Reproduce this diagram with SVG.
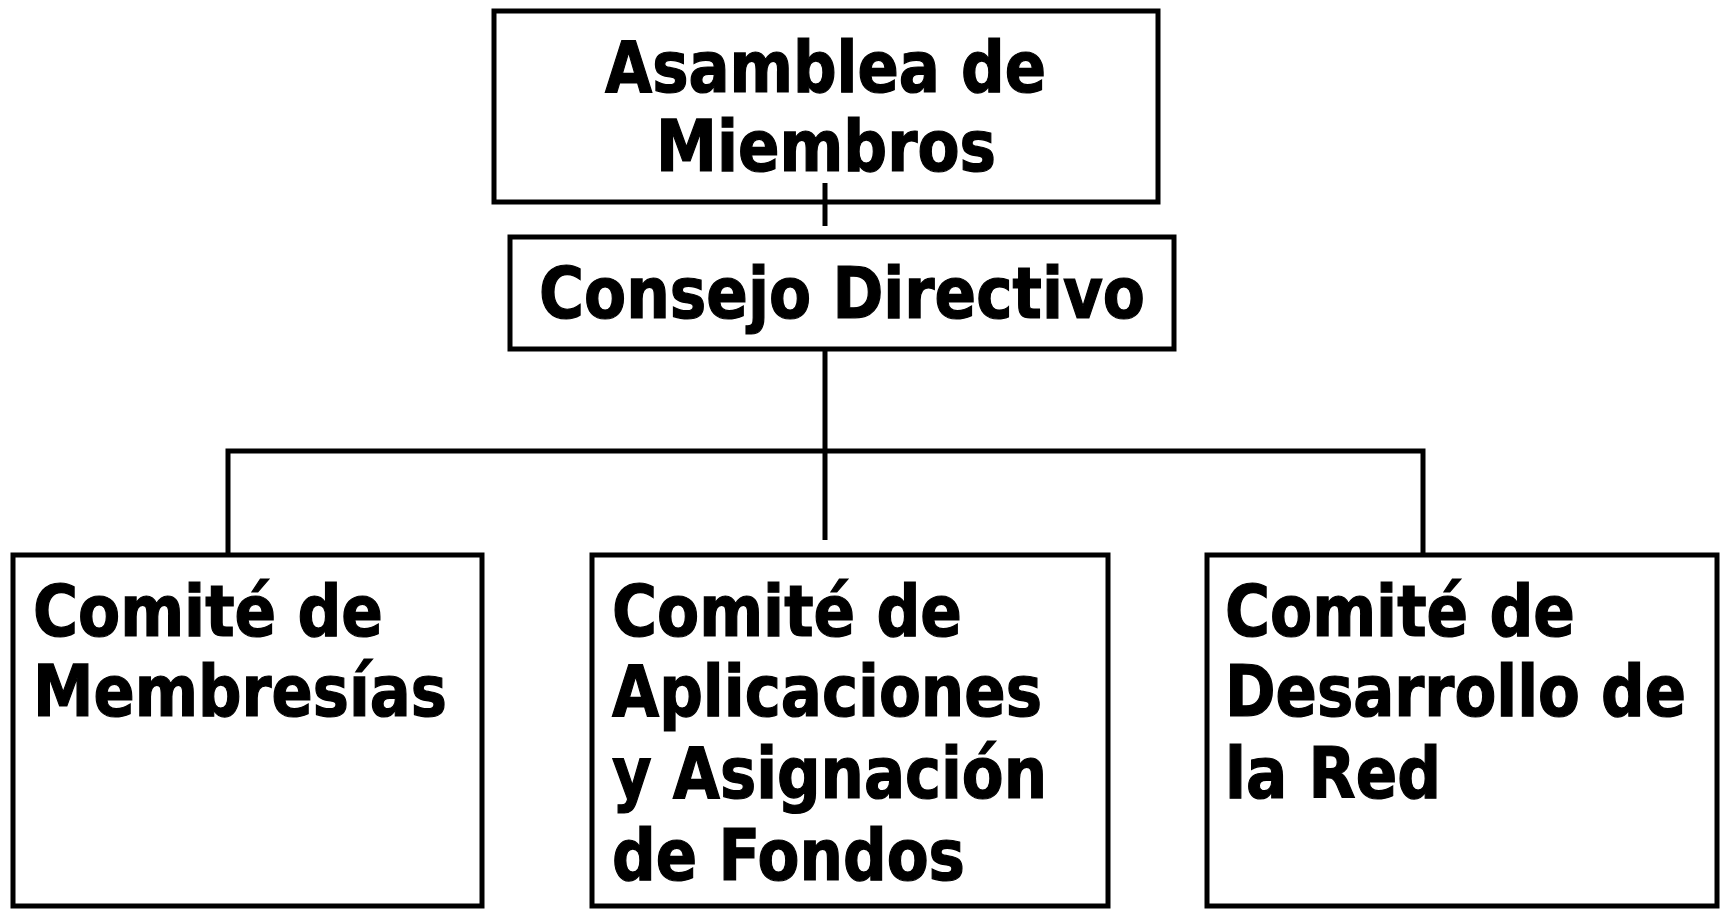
<svg xmlns="http://www.w3.org/2000/svg" width="1720" height="909" viewBox="0 0 1720 909">
<style>
.box{fill:#fff;stroke:#000;stroke-width:5}
.t{font-family:"DejaVu Sans Condensed","DejaVu Sans",sans-serif;font-weight:bold;font-size:71px;fill:#000;stroke:#000;stroke-width:1.2}
.c{stroke:#000;stroke-width:5;fill:none}
</style>
<rect width="1720" height="909" fill="#fff"/>
<g id="asamblea">
<rect class="box" x="494" y="11" width="664" height="191"/>
<text class="t" x="605" y="92" textLength="441" lengthAdjust="spacingAndGlyphs">Asamblea de</text>
<text class="t" x="656" y="171" textLength="340" lengthAdjust="spacingAndGlyphs">Miembros</text>
</g>
<g id="consejo">
<rect class="box" x="510" y="237" width="664" height="112"/>
<text class="t" x="539" y="318" textLength="606" lengthAdjust="spacingAndGlyphs">Consejo Directivo</text>
</g>
<g id="membresias">
<rect class="box" x="13" y="555" width="469" height="351"/>
<text class="t" x="33" y="636" textLength="350" lengthAdjust="spacingAndGlyphs">Comité de</text>
<text class="t" x="33" y="716" textLength="414" lengthAdjust="spacingAndGlyphs">Membresías</text>
</g>
<g id="aplicaciones">
<rect class="box" x="592" y="555" width="516" height="351"/>
<text class="t" x="612" y="636" textLength="350" lengthAdjust="spacingAndGlyphs">Comité de</text>
<text class="t" x="612" y="716" textLength="430" lengthAdjust="spacingAndGlyphs">Aplicaciones</text>
<text class="t" x="612" y="798" textLength="435" lengthAdjust="spacingAndGlyphs">y Asignación</text>
<text class="t" x="612" y="880" textLength="353" lengthAdjust="spacingAndGlyphs">de Fondos</text>
</g>
<g id="desarrollo">
<rect class="box" x="1207" y="555" width="510" height="351"/>
<text class="t" x="1225" y="636" textLength="350" lengthAdjust="spacingAndGlyphs">Comité de</text>
<text class="t" x="1225" y="716" textLength="461" lengthAdjust="spacingAndGlyphs">Desarrollo de</text>
<text class="t" x="1225" y="798" textLength="216" lengthAdjust="spacingAndGlyphs">la Red</text>
</g>
<g id="connectors">
<line class="c" x1="825" y1="183" x2="825" y2="226"/>
<line class="c" x1="825" y1="349" x2="825" y2="540"/>
<polyline class="c" points="228,555 228,451 1423,451 1423,555"/>
</g>
</svg>
